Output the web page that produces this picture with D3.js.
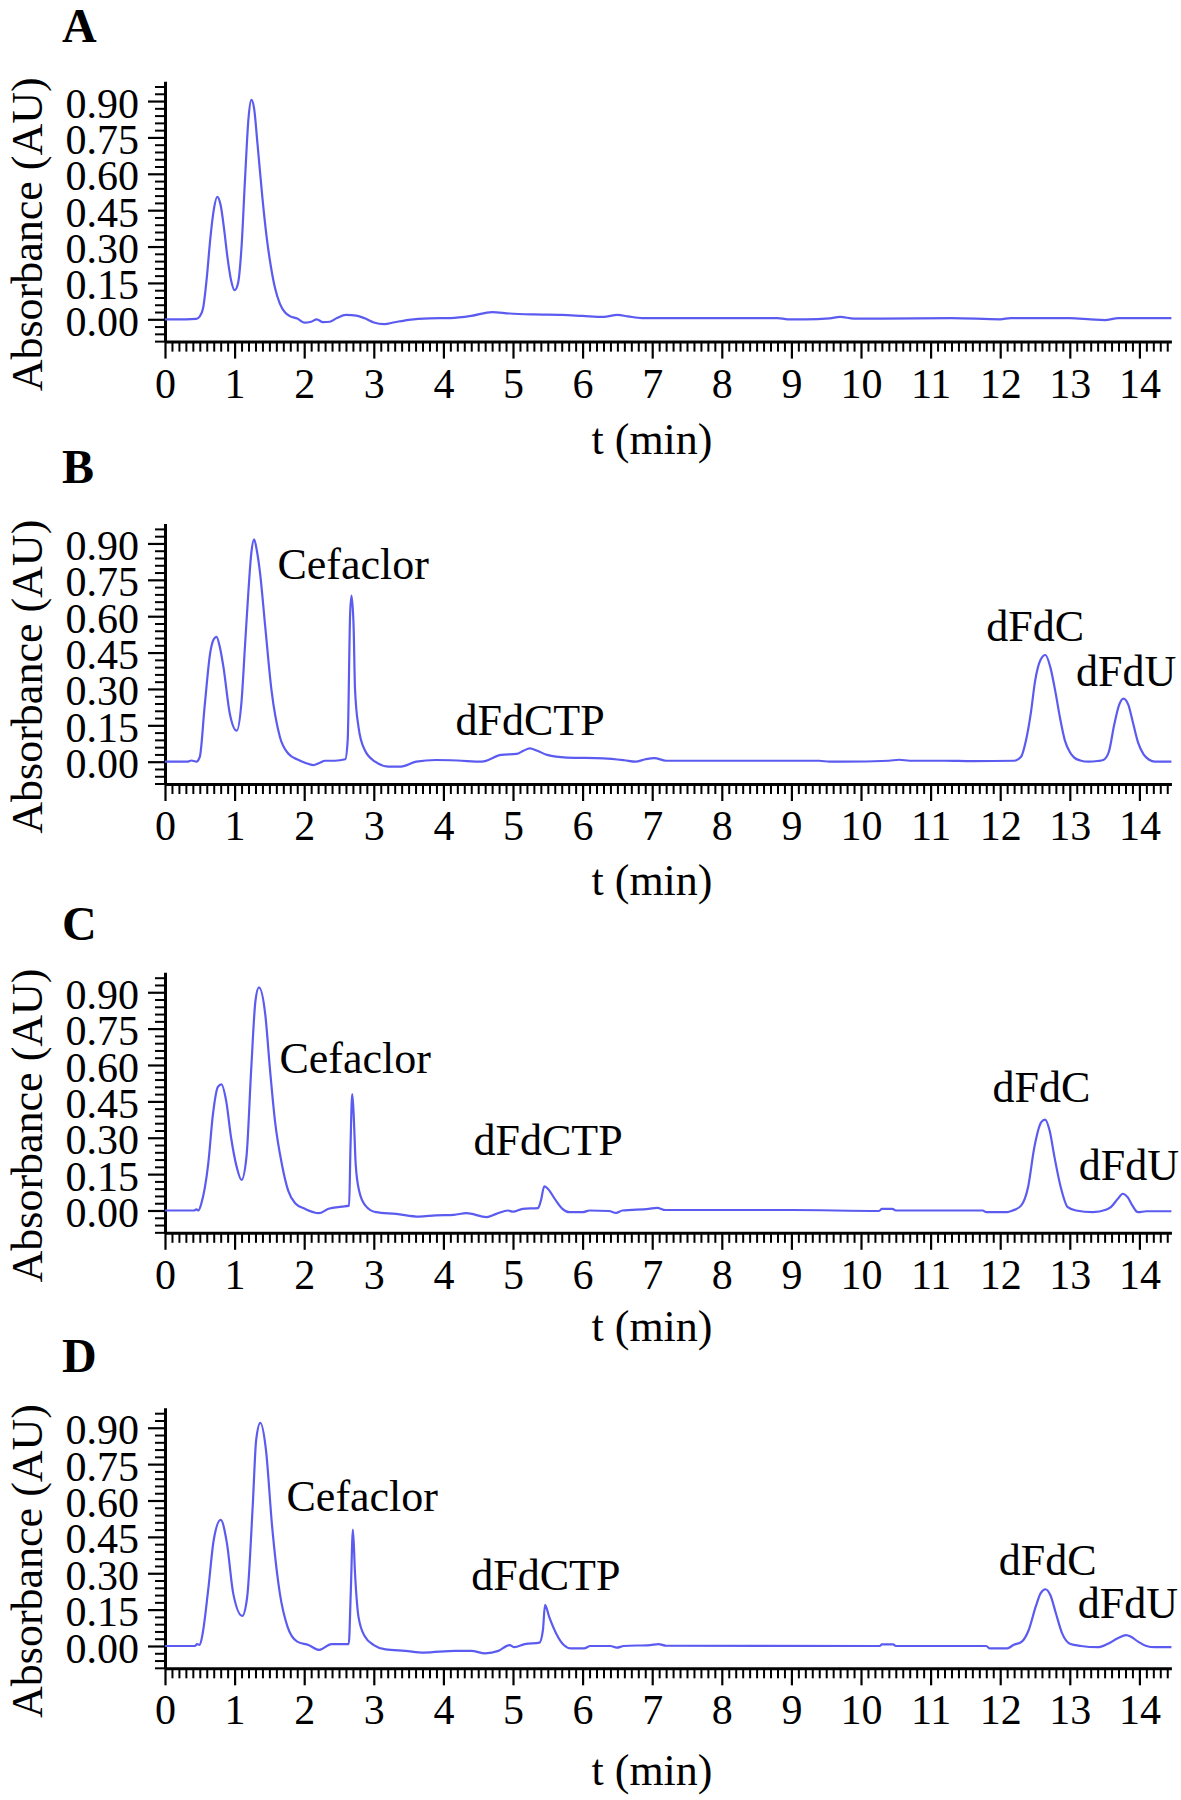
<!DOCTYPE html>
<html>
<head>
<meta charset="utf-8">
<script src="https://cdn.jsdelivr.net/npm/d3@7"></script>
<style>
  html, body { margin: 0; padding: 0; background: #fff; }
  svg { display: block; }
  text { font-family: "Liberation Serif", "Times New Roman", serif; fill: #000; }
</style>
</head>
<body>
<svg id="chart" width="1181" height="1800"></svg>
<script>
// ---------------- DATA ----------------
const panelLetters = ["A", "B", "C", "D"];
const xAxisTitle = "t (min)";
const yAxisTitle = "Absorbance (AU)";
const xMajorTicks = d3.range(0, 15);                       // 0 … 14 min
const yMajorTicks = [0, 0.15, 0.30, 0.45, 0.60, 0.75, 0.90];
const timeDomain = [0, 14.46];
const absDomain = [-0.092, 0.982];

// chromatogram traces: [time (min), absorbance (AU)]
const traceA = [[0,0],[0.3,0],[0.45,0.002],[0.5,0.012],[0.55,0.05],[0.6,0.17],[0.65,0.33],[0.7,0.45],[0.75,0.505],[0.8,0.47],[0.85,0.37],[0.9,0.25],[0.95,0.16],[1.0,0.12],[1.05,0.15],[1.1,0.30],[1.15,0.58],[1.2,0.83],[1.24,0.905],[1.28,0.87],[1.33,0.72],[1.4,0.50],[1.46,0.34],[1.52,0.22],[1.58,0.13],[1.65,0.065],[1.72,0.03],[1.8,0.012],[1.9,0.003],[2.0,-0.014],[2.1,-0.01],[2.18,0.0],[2.27,-0.012],[2.37,-0.01],[2.47,0.005],[2.6,0.018],[2.75,0.015],[2.87,0.004],[3.0,-0.013],[3.15,-0.02],[3.3,-0.012],[3.5,-0.002],[3.8,0.004],[4.1,0.005],[4.4,0.014],[4.7,0.03],[4.95,0.024],[5.3,0.02],[5.7,0.018],[6.0,0.014],[6.3,0.01],[6.5,0.018],[6.65,0.012],[6.85,0.005],[7.5,0.005],[8.8,0.005],[8.95,0.0],[9.2,0.0],[9.55,0.004],[9.7,0.01],[9.9,0.003],[10.3,0.003],[11.3,0.005],[12.0,0.0],[12.15,0.005],[13.0,0.005],[13.3,0.0],[13.5,-0.003],[13.7,0.005],[14.46,0.005]];

const traceB = [[0,0],[0.33,0],[0.38,0.005],[0.45,0.0],[0.5,0.02],[0.57,0.23],[0.65,0.45],[0.7,0.505],[0.74,0.515],[0.79,0.47],[0.84,0.39],[0.93,0.2],[1.03,0.128],[1.1,0.25],[1.15,0.48],[1.2,0.71],[1.24,0.86],[1.28,0.917],[1.32,0.87],[1.365,0.78],[1.44,0.557],[1.53,0.295],[1.65,0.103],[1.77,0.034],[1.92,0.007],[2.02,-0.005],[2.13,-0.014],[2.22,-0.005],[2.3,0.004],[2.44,0.004],[2.59,0.01],[2.625,0.09],[2.66,0.61],[2.68,0.685],[2.71,0.556],[2.73,0.30],[2.78,0.144],[2.87,0.048],[3.02,0.0],[3.21,-0.02],[3.39,-0.02],[3.61,0.0],[3.89,0.007],[4.2,0.005],[4.55,0.0],[4.83,0.028],[5.05,0.032],[5.15,0.045],[5.24,0.055],[5.35,0.045],[5.49,0.028],[5.77,0.017],[6.3,0.014],[6.6,0.006],[6.76,0.0],[6.9,0.01],[7.03,0.015],[7.2,0.004],[9.4,0.004],[9.55,0.0],[9.75,0.0],[10.4,0.004],[10.55,0.008],[10.7,0.004],[11.2,0.004],[11.6,0.002],[12.2,0.004],[12.3,0.02],[12.37,0.087],[12.44,0.2],[12.5,0.33],[12.58,0.42],[12.65,0.44],[12.72,0.39],[12.79,0.293],[12.86,0.18],[12.93,0.087],[13.0,0.04],[13.06,0.018],[13.15,0.005],[13.27,0.0],[13.4,0.003],[13.48,0.007],[13.56,0.04],[13.64,0.155],[13.71,0.235],[13.77,0.26],[13.84,0.235],[13.9,0.17],[13.98,0.08],[14.06,0.03],[14.14,0.008],[14.22,0.0],[14.46,0.0]];

const traceC = [[0,0],[0.42,0],[0.45,0.005],[0.48,0.0],[0.52,0.027],[0.62,0.19],[0.69,0.40],[0.76,0.51],[0.81,0.52],[0.88,0.45],[0.95,0.30],[1.03,0.18],[1.10,0.126],[1.17,0.22],[1.24,0.59],[1.30,0.866],[1.35,0.92],[1.44,0.81],[1.51,0.577],[1.58,0.37],[1.68,0.19],[1.77,0.082],[1.87,0.03],[2.01,0.007],[2.21,-0.011],[2.35,0.007],[2.54,0.016],[2.645,0.02],[2.665,0.26],[2.69,0.48],[2.71,0.40],[2.74,0.19],[2.79,0.08],[2.88,0.02],[3.03,-0.007],[3.32,-0.014],[3.65,-0.025],[3.89,-0.02],[4.15,-0.018],[4.33,-0.011],[4.62,-0.027],[4.76,-0.014],[4.93,0.0],[5.0,-0.005],[5.14,0.007],[5.36,0.01],[5.40,0.04],[5.45,0.10],[5.5,0.09],[5.6,0.048],[5.71,0.007],[5.81,-0.007],[6.0,-0.007],[6.1,0.0],[6.38,-0.002],[6.48,-0.01],[6.57,0.0],[6.95,0.007],[7.07,0.011],[7.19,0.002],[9.0,0.002],[10.26,-0.002],[10.3,0.007],[10.45,0.007],[10.5,0.0],[11.75,0.0],[11.8,-0.007],[12.1,-0.007],[12.18,0.0],[12.3,0.02],[12.4,0.096],[12.49,0.26],[12.59,0.364],[12.645,0.375],[12.71,0.33],[12.78,0.22],[12.87,0.096],[12.97,0.014],[13.09,0.0],[13.33,-0.007],[13.52,0.003],[13.59,0.014],[13.69,0.048],[13.76,0.069],[13.83,0.055],[13.9,0.02],[13.98,-0.007],[14.1,-0.003],[14.46,-0.003]];

const traceD = [[0,0],[0.43,0],[0.46,0.008],[0.5,0.005],[0.54,0.05],[0.62,0.23],[0.70,0.437],[0.80,0.52],[0.89,0.423],[0.98,0.217],[1.11,0.124],[1.18,0.2],[1.26,0.575],[1.31,0.85],[1.37,0.92],[1.45,0.81],[1.54,0.49],[1.65,0.217],[1.76,0.08],[1.9,0.018],[2.06,0.004],[2.22,-0.016],[2.39,0.008],[2.64,0.008],[2.67,0.23],[2.70,0.48],[2.73,0.30],[2.78,0.12],[2.87,0.04],[3.0,0.004],[3.17,-0.014],[3.45,-0.02],[3.72,-0.027],[4.17,-0.02],[4.4,-0.02],[4.6,-0.03],[4.79,-0.02],[4.95,0.004],[5.02,-0.005],[5.17,0.008],[5.38,0.014],[5.43,0.066],[5.46,0.17],[5.52,0.12],[5.62,0.052],[5.73,0.004],[5.83,-0.01],[6.02,-0.01],[6.11,0.0],[6.4,0.0],[6.49,-0.007],[6.59,0.0],[6.97,0.004],[7.09,0.008],[7.2,0.001],[10.27,0.0],[10.3,0.007],[10.46,0.007],[10.5,0.0],[11.8,0.0],[11.85,-0.01],[12.1,-0.01],[12.19,0.004],[12.31,0.018],[12.41,0.066],[12.51,0.162],[12.58,0.217],[12.65,0.234],[12.72,0.21],[12.8,0.135],[12.89,0.052],[13.01,0.008],[13.16,0.0],[13.4,-0.005],[13.54,0.008],[13.69,0.032],[13.81,0.045],[13.88,0.038],[13.98,0.018],[14.1,0.0],[14.22,-0.005],[14.46,-0.005]];

const traces = [traceA, traceB, traceC, traceD];

// peak annotations (names)
const peakNames = ["Cefaclor", "dFdCTP", "dFdC", "dFdU"];
const panelPeakNames = [[], peakNames, peakNames, peakNames];

// ---------------- LAYOUT ----------------
const X0 = 165, XK = 69.6;          // x pixel of t=0, px per minute
const YK = 242.5;                    // px per AU
const zeroY = [319.3, 761.7, 1210.5, 1646];   // pixel y of 0.00 AU per panel
const letterBaseline = [42, 483, 940, 1372];
const xTitleBaseline = [454, 895, 1341, 1785];
// label anchors (left, baseline) in data coordinates [t, AU]
const labelAnchor = [
  {},
  {"Cefaclor":[1.616,0.753], "dFdCTP":[4.174,0.110], "dFdC":[11.80,0.496], "dFdU":[13.09,0.312]},
  {"Cefaclor":[1.645,0.567], "dFdCTP":[4.432,0.229], "dFdC":[11.89,0.449], "dFdU":[13.13,0.126]},
  {"Cefaclor":[1.746,0.557], "dFdCTP":[4.40,0.231],  "dFdC":[11.98,0.293], "dFdU":[13.115,0.115]}
];

const lineColor = "#5b5bf0";
const tickFont = 42, labelFont = 44;

const svg = d3.select("#chart");
svg.append("rect").attr("width", 1181).attr("height", 1800).attr("fill", "#fff");

const x = d3.scaleLinear().domain(timeDomain).range([X0, X0 + XK * timeDomain[1]]);
const xMinor = d3.range(1, 145).filter(i => i % 10 !== 0).map(i => i / 10);
const yMinor = d3.range(-3, 33).filter(i => i % 5 !== 0).map(i => +(i * 0.03).toFixed(2));

panelLetters.forEach((letter, p) => {
  const z = zeroY[p];
  const y = d3.scaleLinear().domain(absDomain)
    .range([z - absDomain[0] * YK, z - absDomain[1] * YK]);
  const g = svg.append("g");
  const yBottom = y(absDomain[0]);

  // panel letter
  g.append("text").attr("x", 62).attr("y", letterBaseline[p])
    .attr("font-size", 48).attr("font-weight", "bold").text(letter);

  // x axis minor ticks
  g.append("g").attr("transform", `translate(0,${yBottom})`)
    .call(d3.axisBottom(x).tickValues(xMinor).tickSize(10).tickFormat(""))
    .call(s => s.select(".domain").remove())
    .call(s => s.selectAll("line").attr("stroke-width", 2));
  // x axis major
  const gx = g.append("g").attr("transform", `translate(0,${yBottom})`)
    .call(d3.axisBottom(x).tickValues(xMajorTicks).tickSize(17).tickSizeOuter(0).tickFormat(d3.format("d")));
  gx.select(".domain").attr("stroke-width", 3);
  gx.selectAll(".tick line").attr("stroke-width", 2.2);
  gx.selectAll(".tick text").attr("y", 56).attr("dy", null)
    .attr("font-size", tickFont).attr("font-family", '"Liberation Serif", "Times New Roman", serif');

  // y axis minor ticks
  g.append("g").attr("transform", `translate(${X0},0)`)
    .call(d3.axisLeft(y).tickValues(yMinor).tickSize(10).tickFormat(""))
    .call(s => s.select(".domain").remove())
    .call(s => s.selectAll("line").attr("stroke-width", 2));
  // y axis major
  const gy = g.append("g").attr("transform", `translate(${X0},0)`)
    .call(d3.axisLeft(y).tickValues(yMajorTicks).tickSize(17).tickSizeOuter(0).tickFormat(d3.format(".2f")));
  gy.select(".domain").attr("stroke-width", 3);
  gy.selectAll(".tick line").attr("stroke-width", 2.2);
  gy.selectAll(".tick text").attr("x", -26).attr("y", 16).attr("dy", null)
    .attr("font-size", tickFont).attr("font-family", '"Liberation Serif", "Times New Roman", serif');

  // axis titles
  g.append("text").attr("text-anchor", "middle")
    .attr("transform", `translate(42,${z - 85}) rotate(-90)`)
    .attr("font-size", labelFont).text(yAxisTitle);
  g.append("text").attr("text-anchor", "middle")
    .attr("x", 652).attr("y", xTitleBaseline[p])
    .attr("font-size", labelFont).text(xAxisTitle);

  // trace
  const line = d3.line().x(d => x(d[0])).y(d => y(d[1])).curve(d3.curveMonotoneX);
  g.append("path").datum(traces[p]).attr("d", line)
    .attr("fill", "none").attr("stroke", lineColor).attr("stroke-width", 2.2)
    .attr("stroke-linejoin", "round");

  // peak labels
  panelPeakNames[p].forEach(name => {
    const a = labelAnchor[p][name];
    g.append("text").attr("x", x(a[0])).attr("y", y(a[1]))
      .attr("font-size", labelFont).text(name);
  });
});
</script>
</body>
</html>
